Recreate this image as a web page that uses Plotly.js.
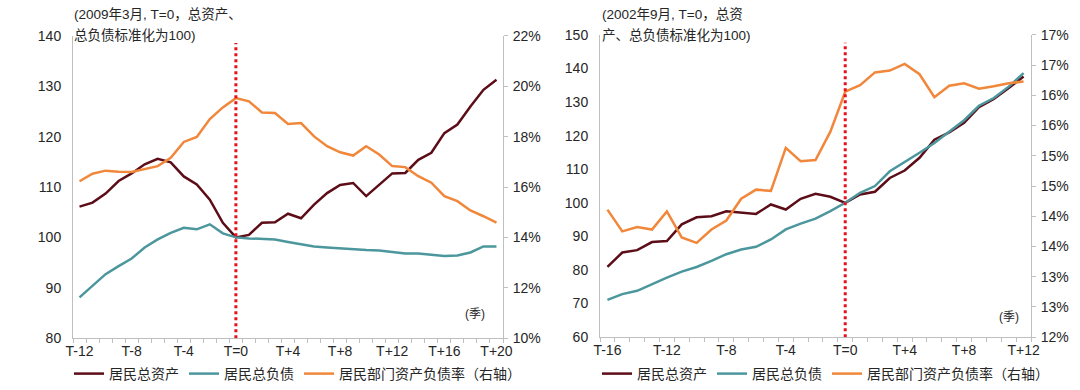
<!DOCTYPE html>
<html>
<head>
<meta charset="utf-8">
<script src="https://cdn.plot.ly/plotly-3.0.1.min.js"></script>
<style>html,body{margin:0;padding:0;background:#fff;}#chart{width:1080px;height:390px;}</style>
</head>
<body>
<div id="chart"></div>
<script>
// ---- Left panel (2009年3月 = T=0) ----
const quartersLeft = [-12,-11,-10,-9,-8,-7,-6,-5,-4,-3,-2,-1,0,1,2,3,4,5,6,7,8,9,10,11,12,13,14,15,16,17,18,19,20];
const assetsLeft = [106.1,106.9,108.7,111.2,112.7,114.5,115.6,114.9,112.1,110.5,107.5,102.9,100.0,
  100.5,102.9,103.0,104.7,103.8,106.5,108.8,110.4,110.8,108.2,110.4,112.7,112.8,115.4,116.8,120.7,122.4,126.0,129.3,131.3];
const debtLeft = [88.1,90.4,92.7,94.3,95.8,98.0,99.6,100.9,101.9,101.6,102.6,100.8,100.0,
  99.8,99.7,99.6,99.1,98.6,98.2,98.0,97.8,97.6,97.5,97.4,97.1,96.8,96.8,96.6,96.3,96.4,97.0,98.2,98.2];
const ratioLeft = [16.23,16.53,16.65,16.61,16.60,16.72,16.83,17.16,17.79,17.99,18.70,19.16,19.53,
  19.40,18.96,18.94,18.50,18.54,18.01,17.62,17.38,17.25,17.62,17.29,16.83,16.79,16.43,16.17,15.64,15.44,15.07,14.84,14.59];
const tickQLeft = [-12,-8,-4,0,4,8,12,16,20];
const leftYTicks = [80,90,100,110,120,130,140];
const leftY2Ticks = [10,12,14,16,18,20,22];

// ---- Right panel (2002年9月 = T=0) ----
const quartersRight = [-16,-15,-14,-13,-12,-11,-10,-9,-8,-7,-6,-5,-4,-3,-2,-1,0,1,2,3,4,5,6,7,8,9,10,11,12];
const assetsRight = [80.9,85.2,85.9,88.3,88.6,93.6,95.7,96.0,97.5,97.0,96.7,99.5,98.0,101.2,102.7,101.8,100.0,
  102.5,103.3,107.4,109.6,113.4,118.8,121.0,123.8,128.5,130.9,134.2,137.6];
const debtRight = [71.1,72.8,73.8,75.8,77.7,79.5,80.9,82.7,84.7,86.1,86.9,89.1,92.1,93.8,95.3,97.5,100.0,
  103.0,105.0,109.4,112.1,114.9,117.8,121.3,124.6,128.9,131.2,134.6,138.6];
const ratioRight = [14.11,13.75,13.82,13.78,14.08,13.65,13.56,13.78,13.93,14.29,14.44,14.42,15.13,14.91,14.93,15.40,16.06,
  16.17,16.38,16.41,16.52,16.35,15.97,16.16,16.20,16.11,16.15,16.20,16.23];
const tickQRight = [-16,-12,-8,-4,0,4,8,12];
const rightYTicks = [60,70,80,90,100,110,120,130,140,150];
const rightY2Ticks = [12,12.5,13,13.5,14,14.5,15,15.5,16,16.5,17];

const names = ['居民总资产','居民总负债','居民部门资产负债率（右轴）'];
const notes = ['(2009年3月, T=0，总资产、','总负债标准化为100)','(2002年9月, T=0，总资','产、总负债标准化为100)','(季)'];

const C_ASSET = '#5c0d17', C_DEBT = '#4b979d', C_RATIO = '#f0873a', C_MARK = '#e8101a';
const FONT = 'Liberation Sans, Arial, Noto Sans CJK SC, sans-serif';
const TXT = '#262626', AX = '#bfbfbf';

function qLabel(q){ return q === 0 ? 'T=0' : (q > 0 ? 'T+' + q : 'T' + q); }
function pctLabel(v){ return Math.round(v + 1e-9) + '%'; }

const W = 1080, H = 390;
const px = v => v / W, py = v => (H - v) / H;

const traces = [
  {x: quartersLeft, y: assetsLeft, name: names[0], xaxis:'x', yaxis:'y', mode:'lines', line:{color:C_ASSET,width:2.5}, legend:'legend'},
  {x: quartersLeft, y: debtLeft, name: names[1], xaxis:'x', yaxis:'y', mode:'lines', line:{color:C_DEBT,width:2.5}, legend:'legend'},
  {x: quartersLeft, y: ratioLeft, name: names[2], xaxis:'x', yaxis:'y2', mode:'lines', line:{color:C_RATIO,width:2.5}, legend:'legend'},
  {x: quartersRight, y: assetsRight, name: names[0], xaxis:'x2', yaxis:'y3', mode:'lines', line:{color:C_ASSET,width:2.5}, legend:'legend2'},
  {x: quartersRight, y: debtRight, name: names[1], xaxis:'x2', yaxis:'y3', mode:'lines', line:{color:C_DEBT,width:2.5}, legend:'legend2'},
  {x: quartersRight, y: ratioRight, name: names[2], xaxis:'x2', yaxis:'y4', mode:'lines', line:{color:C_RATIO,width:2.5}, legend:'legend2'}
];

function xAxis(q, ticks, dom, anchor){
  return {
    domain: dom, anchor: anchor, type:'linear',
    range: [q[0] - 0.5, q[q.length-1] + 0.5],
    tickmode:'array', tickvals: ticks, ticktext: ticks.map(qLabel),
    ticks:'', showline:true, linecolor:AX, linewidth:1, showgrid:false, zeroline:false,
    tickfont:{size:14, color:TXT, family:FONT},
    minor:{ticks:'outside', tick0: q[0] - 0.5, dtick:1, ticklen:4, tickcolor:AX, tickwidth:1, showgrid:false},
    fixedrange:true
  };
}
function yAxis(range, ticks, dom, anchor, side, overlay, pct){
  const a = {
    domain: dom, anchor: anchor, side: side, range: range,
    tickmode:'array', tickvals: ticks, ticktext: pct ? ticks.map(pctLabel) : ticks.map(String),
    showline:true, linecolor:AX, linewidth:1, showgrid:false, zeroline:false,
    tickfont:{size:14, color:TXT, family:FONT},
    ticks: side === 'right' ? 'outside' : '', ticklen:4, tickcolor:AX,
    ticklabelstandoff: side === 'right' ? 2 : 8,
    fixedrange:true
  };
  if (overlay) a.overlaying = overlay;
  return a;
}

const leftX = [px(73), px(503)], leftY = [py(339), py(36)];
const rightX = [px(600), px(1031)], rightY = [py(338), py(35)];

const legendCommon = {orientation:'h', xanchor:'left', y: py(375), yanchor:'middle',
  font:{size:14, color:TXT, family:FONT}, itemwidth:30, bgcolor:'rgba(0,0,0,0)', traceorder:'normal'};

const layout = {
  width: W, height: H, margin:{l:0,r:0,t:0,b:0},
  paper_bgcolor:'#fff', plot_bgcolor:'rgba(0,0,0,0)',
  font:{family:FONT, color:TXT, size:14},
  xaxis: xAxis(quartersLeft, tickQLeft, leftX, 'y'),
  yaxis: yAxis([80,140], leftYTicks, leftY, 'x', 'left', null, false),
  yaxis2: yAxis([10,22], leftY2Ticks, leftY, 'x', 'right', 'y', true),
  xaxis2: xAxis(quartersRight, tickQRight, rightX, 'y3'),
  yaxis3: yAxis([60,150], rightYTicks, rightY, 'x2', 'left', null, false),
  yaxis4: yAxis([12,17], rightY2Ticks, rightY, 'x2', 'right', 'y3', true),
  legend: Object.assign({x: px(69)}, legendCommon),
  legend2: Object.assign({x: px(597)}, legendCommon),
  shapes: [
    {type:'line', xref:'x', yref:'y', x0:0, x1:0, y0:80, y1:138.6, line:{color:C_MARK, width:3, dash:'3px,3px'}},
    {type:'line', xref:'x2', yref:'y3', x0:0, x1:0, y0:60, y1:147.7, line:{color:C_MARK, width:3, dash:'3px,3px'}}
  ],
  annotations: [
    {xref:'paper', yref:'paper', x:px(72), y:py(15), xanchor:'left', yanchor:'middle', text:notes[0], showarrow:false, font:{size:13.5,color:TXT}},
    {xref:'paper', yref:'paper', x:px(72), y:py(36), xanchor:'left', yanchor:'middle', text:notes[1], showarrow:false, font:{size:13.5,color:TXT}},
    {xref:'paper', yref:'paper', x:px(600), y:py(15), xanchor:'left', yanchor:'middle', text:notes[2], showarrow:false, font:{size:13.5,color:TXT}},
    {xref:'paper', yref:'paper', x:px(600), y:py(36), xanchor:'left', yanchor:'middle', text:notes[3], showarrow:false, font:{size:13.5,color:TXT}},
    {xref:'paper', yref:'paper', x:px(475), y:py(315), xanchor:'center', yanchor:'middle', text:notes[4], showarrow:false, font:{size:12,color:TXT}},
    {xref:'paper', yref:'paper', x:px(1009), y:py(318), xanchor:'center', yanchor:'middle', text:notes[4], showarrow:false, font:{size:12,color:TXT}}
  ],
  showlegend:true
};

Plotly.newPlot('chart', traces, layout, {staticPlot:true, displayModeBar:false});
</script>
</body>
</html>
